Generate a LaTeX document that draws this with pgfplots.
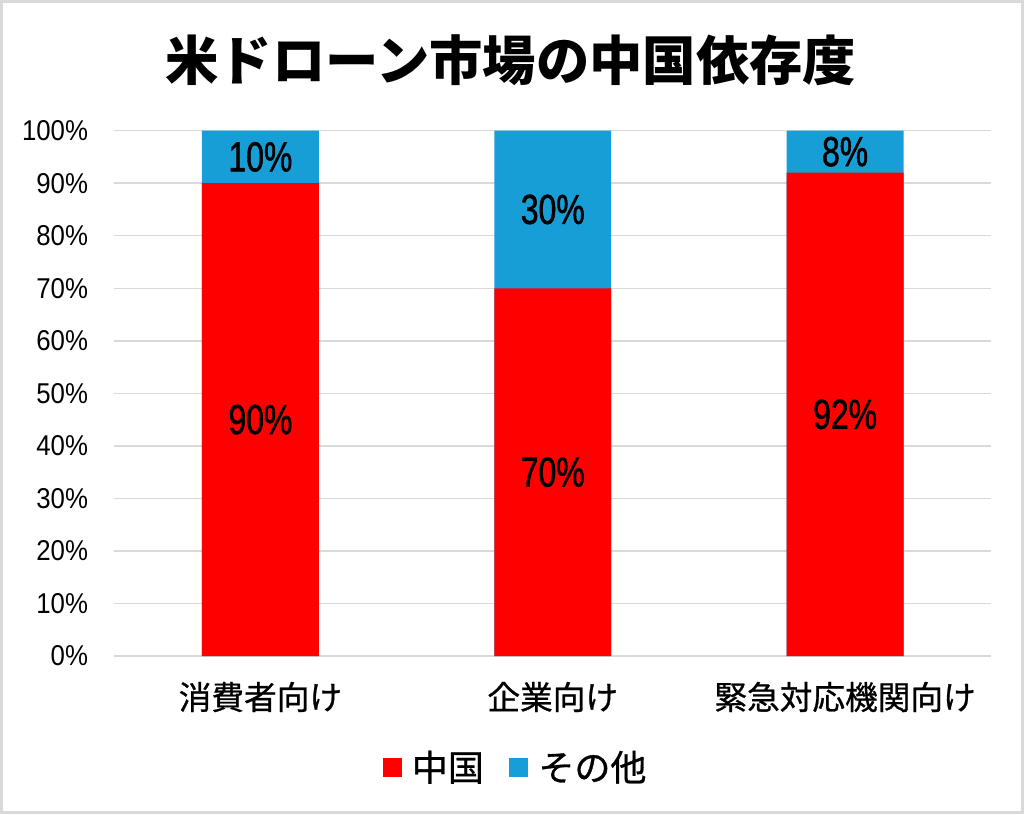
\documentclass[border=0pt]{standalone}
\usepackage{pgfplots}
\pgfplotsset{compat=1.18}
\usepackage{fontspec}
\setmainfont{Noto Sans CJK JP}
\newfontfamily\medfont[FakeBold=0.8]{Noto Sans CJK JP}
\newfontfamily\tickfont[FakeStretch=0.9]{Liberation Sans}
\newfontfamily\barfont[FakeStretch=0.76,FakeBold=1.2]{Liberation Sans}
\definecolor{cnred}{RGB}{255,0,0}
\definecolor{othblue}{RGB}{23,158,214}
\definecolor{gridgray}{RGB}{217,217,217}
\begin{document}
\begin{tikzpicture}
\path[use as bounding box] (0,0) rectangle (768pt,610.5pt);
\draw[line width=2.25pt, color=gridgray] (1.125pt,1.125pt) rectangle (766.875pt,609.375pt);
\node[font=\fontsize{40}{48}\selectfont\bfseries] at (383pt,565pt) {米ドローン市場の中国依存度};
\begin{axis}[
  at={(85.7pt,118.5pt)}, anchor=south west,
  scale only axis, width=657.75pt, height=394pt,
  xmin=-0.5, xmax=2.5, ymin=0, ymax=100,
  axis line style={draw=none},
  major tick length=0pt, tick style={draw=none},
  xtick={0,1,2}, xticklabels={消費者向け,企業向け,緊急対応機関向け},
  ytick={0,10,...,100},
  yticklabels={0\%,10\%,20\%,30\%,40\%,50\%,60\%,70\%,80\%,90\%,100\%},
  ymajorgrids, major grid style={gridgray, line width=1.1pt},
  yticklabel style={font=\tickfont\fontsize{21.5}{24}\selectfont, anchor=east, inner sep=0pt, xshift=-19.5pt},
  xticklabel style={font=\medfont\fontsize{24.5}{28}\selectfont, anchor=center, inner sep=0pt, yshift=-30.75pt},
  legend style={at={(0.458,-0.211)}, anchor=center, draw=none, legend columns=2,
    font=\medfont\fontsize{27}{30}\selectfont,
    /tikz/every odd column/.append style={column sep=6pt},
    /tikz/every even column/.append style={column sep=17pt}},
]
\addplot[ybar, bar width=0.4, bar shift=0pt, fill=othblue, draw=none, forget plot]
  coordinates {(0,100) (1,100) (2,100)};
\addplot[ybar, bar width=0.4, bar shift=0pt, fill=cnred, draw=none, forget plot]
  coordinates {(0,90) (1,70) (2,92)};
\addplot[draw=none, mark=none, forget plot, nodes near coords, point meta=explicit symbolic,
  every node near coord/.style={anchor=center, font=\barfont\fontsize{31.5}{34}\selectfont, text=black}]
  coordinates {(0,45)[90\%] (1,35)[70\%] (2,46)[92\%] (0,95)[10\%] (1,85)[30\%] (2,96)[8\%]};
\addlegendimage{legend image code/.code={\fill[cnred] (0pt,-6.75pt) rectangle (13.5pt,6.75pt);}}
\addlegendentry{中国}
\addlegendimage{legend image code/.code={\fill[othblue] (0pt,-6.75pt) rectangle (13.5pt,6.75pt);}}
\addlegendentry{その他}
\end{axis}
\end{tikzpicture}
\end{document}
